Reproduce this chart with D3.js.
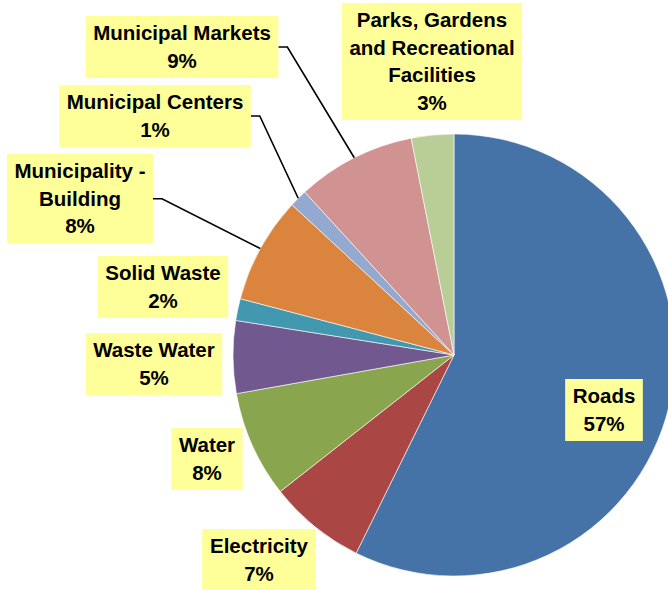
<!DOCTYPE html>
<html>
<head>
<meta charset="utf-8">
<script src="https://cdn.jsdelivr.net/npm/d3@7"></script>
<style>
	html, body { margin: 0; padding: 0; background: #fff; }
	svg { display: block; }
	.lbl text { font-family: "Liberation Sans", Arial, sans-serif; font-weight: bold; font-size: 20.5px; fill: #000; }
</style>
</head>
<body>
<div id="chart"></div>
<script>
/* global d3 */

// Data (percent of total), clockwise from 12 o'clock
var categories = ['Roads', 'Electricity', 'Water', 'Waste Water', 'Solid Waste',
	'Municipality - Building', 'Municipal Centers', 'Municipal Markets',
	'Parks, Gardens and Recreational Facilities'];
var values = [57.3, 7.1, 7.8, 5.3, 1.6, 7.8, 1.3, 8.7, 3.1];
// label text lines (wrapped as in the original)
var labelLines = [
	['Roads'], ['Electricity'], ['Water'], ['Waste Water'], ['Solid Waste'],
	['Municipality -', 'Building'], ['Municipal Centers'], ['Municipal Markets'],
	['Parks, Gardens', 'and Recreational', 'Facilities']
];
var colors = ['#4572A7', '#AA4643', '#89A54E', '#71588F', '#4198AF',
	'#DB843D', '#93A9CF', '#D19392', '#B9CD96'];

(function() {

	var width = 668,
		height = 590,
		cx = 454,
		cy = 355,
		radius = 221,
		lineH = 27.5;

	// label box placement: [center x, top y], leader = draw connector line
	var labelPos = [
		{ x: 604, y: 379 }, { x: 259, y: 529 }, { x: 207, y: 428 },
		{ x: 154, y: 333 }, { x: 163, y: 256 }, { x: 80, y: 154, leader: true },
		{ x: 155, y: 85, leader: true }, { x: 182, y: 16, leader: true },
		{ x: 432, y: 3 }
	];

	var data = categories.map(function(c, i) {
		return { name: c, value: values[i], lines: labelLines[i], color: colors[i], pos: labelPos[i] };
	});

	var svg = d3.select('#chart').append('svg')
		.attr('width', width)
		.attr('height', height);

	var pie = d3.pie().sort(null).value(function(d) { return d.value; });
	var arc = d3.arc().innerRadius(0).outerRadius(radius);
	var arcs = pie(data);

	var gPie = svg.append('g').attr('transform', 'translate(' + cx + ',' + cy + ')');
	gPie.selectAll('path')
		.data(arcs)
		.enter().append('path')
		.attr('d', arc)
		.attr('fill', function(d) { return d.data.color; })
		.attr('stroke', '#fff')
		.attr('stroke-width', 0.6);

	var gLines = svg.append('g');
	var gLabels = svg.append('g').attr('class', 'lbl');

	arcs.forEach(function(a) {
		var d = a.data,
			lines = d.lines.concat([Math.round(d.value) + '%']),
			g = gLabels.append('g'),
			rect = g.append('rect').attr('fill', '#FFFF99'),
			text = g.append('text').attr('text-anchor', 'middle');

		lines.forEach(function(l, i) {
			text.append('tspan')
				.attr('x', d.pos.x)
				.attr('y', d.pos.y + 24 + i * lineH)
				.text(l);
		});

		var bb = text.node().getBBox(),
			bw = bb.width + 15,
			bh = lines.length * lineH + 7,
			bx = d.pos.x - bw / 2;
		rect.attr('x', bx).attr('y', d.pos.y).attr('width', bw).attr('height', bh);

		if (d.pos.leader) {
			// connector from box edge to arc midpoint
			var mid = (a.startAngle + a.endAngle) / 2,
				px = cx + radius * Math.sin(mid),
				py = cy - radius * Math.cos(mid),
				sx = bx + bw,
				sy = d.pos.y + bh / 2;
			gLines.append('polyline')
				.attr('points', [[sx, sy], [sx + 9, sy], [px, py]].join(' '))
				.attr('fill', 'none')
				.attr('stroke', '#000')
				.attr('stroke-width', 1.6);
		}
	});

})();
</script>
</body>
</html>
